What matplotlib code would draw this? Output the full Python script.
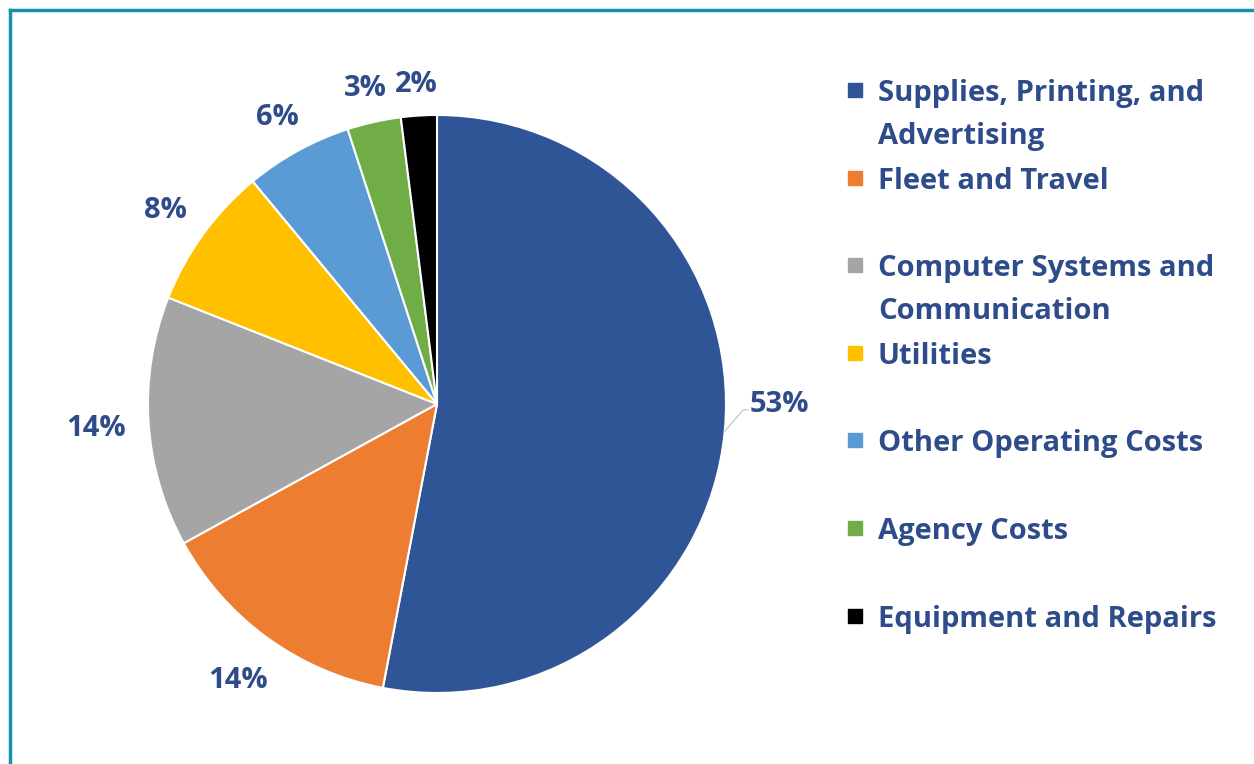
import numpy as np
import matplotlib.pyplot as plt
from matplotlib.lines import Line2D

# dados do gráfico
categorias = [['Supplies, Printing, and', 'Advertising'], ['Fleet and Travel'],
              ['Computer Systems and', 'Communication'], ['Utilities'],
              ['Other Operating Costs'], ['Agency Costs'], ['Equipment and Repairs']]
valores = [53, 14, 14, 8, 6, 3, 2]
cores = ['#2F5597', '#ED7D31', '#A5A5A5', '#FFC000', '#5B9BD5', '#70AD47', '#000000']

cor_texto = '#2E4B8A'
plt.rcParams['font.family'] = ['Open Sans', 'DejaVu Sans']
tam = 21

W, H = 1254, 764
fig = plt.figure(figsize=(W / 100, H / 100), dpi=100)

# pizza: centro e raio em pixels
cx, cy, r = 437, 404, 289
ax = fig.add_axes([(cx - r) / W, 1 - (cy + r) / H, 2 * r / W, 2 * r / H])
wedges, textos, pcts = ax.pie(valores, colors=cores, startangle=90, counterclock=False,
                              autopct='%1.0f%%', pctdistance=1.17,
                              wedgeprops=dict(edgecolor='white', linewidth=1.5))
ax.set_xlim(-1, 1)
ax.set_ylim(-1, 1)
ax.set_aspect('equal')

for t in pcts:
    t.set_color(cor_texto)
    t.set_fontsize(tam)
    t.set_fontweight('bold')
    t.set_va('center_baseline')

# rótulos fora da fatia: borda da caixa a uma distância fixa do círculo
fig.canvas.draw()
rend = fig.canvas.get_renderer()
folga = 22  # px
for w, t in zip(wedges[1:], pcts[1:]):
    a = np.deg2rad((w.theta1 + w.theta2) / 2)
    bb = t.get_window_extent(rend)
    hw, hh = bb.width / 2, bb.height / 2 * 0.8
    d = 1 + (folga + abs(np.cos(a)) * hw + abs(np.sin(a)) * hh) / r
    t.set_position((d * np.cos(a), d * np.sin(a)))

# rótulo da maior fatia com linha de chamada
w0 = wedges[0]
ang = np.deg2rad((w0.theta1 + w0.theta2) / 2)
pcts[0].set_position((1.185, 0.01))
pcts[0].set_ha('center')
ax.plot([np.cos(ang), 1.06, 1.075], [np.sin(ang), -0.02, -0.02], color='#BFBFBF', lw=0.8,
        clip_on=False)

# legenda manual (espaçamento irregular como no original)
passo = 87.6
linha = 43
for i, (cat, cor) in enumerate(zip(categorias, cores)):
    y = 90 + passo * i
    fig.patches.append(plt.Rectangle((848 / W, 1 - (y + 7) / H), 14 / W, 14 / H,
                                     transform=fig.transFigure, color=cor))
    for j, txt in enumerate(cat):
        fig.text(878 / W, 1 - (y + j * linha) / H, txt, ha='left', va='center_baseline',
                 fontsize=tam, fontweight='bold', color=cor_texto)

# borda da figura (só esquerda e topo visíveis)
borda = '#1592AE'
fig.add_artist(Line2D([9.5 / W, 9.5 / W], [0, 1 - 10 / H], color=borda, lw=2.5,
                      transform=fig.transFigure))
fig.add_artist(Line2D([9.5 / W, 1], [1 - 10 / H, 1 - 10 / H], color=borda, lw=2.5,
                      transform=fig.transFigure))

fig.savefig('out.png', dpi=100)
